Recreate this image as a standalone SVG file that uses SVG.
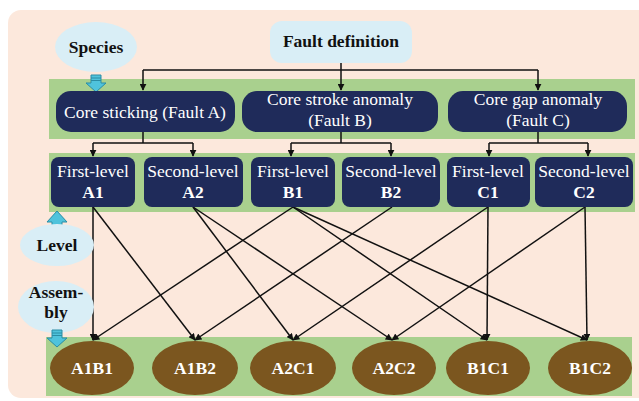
<svg xmlns="http://www.w3.org/2000/svg" width="639" height="401" viewBox="0 0 639 401">
<defs>
<style>
.t{font-family:"Liberation Serif","Times New Roman",serif;font-size:17.5px;text-anchor:middle}
.w{fill:#fff}
.b{font-weight:bold}
.k{fill:#111}
.navy{fill:#1f2b5a}
.band{fill:#a9d08e}
.bub{fill:#d9eef6}
.el{fill:#7b561f}
.cy{fill:#4fc3dc;stroke:#2a8da5;stroke-width:1}
.c{fill:none;stroke:#111;stroke-width:1.5}
</style>
<marker id="ah" viewBox="0 0 10 10" refX="9" refY="5" markerWidth="7" markerHeight="7" markerUnits="userSpaceOnUse" orient="auto">
<path d="M0,0 L10,5 L0,10 z" fill="#111"/>
</marker>
</defs>
<rect width="639" height="401" fill="#fff"/>
<rect x="8" y="10" width="645" height="388" rx="13" fill="#fce8dc"/>

<rect class="band" x="49" y="79" width="586" height="60"/>
<rect class="band" x="49" y="153" width="586" height="59"/>
<rect class="band" x="46" y="337" width="586" height="59"/>

<g id="connectors">
<path class="c" d="M341,63 V70"/>
<path class="c" d="M143,70 H538"/>
<path class="c" d="M143,70 V90" marker-end="url(#ah)"/>
<path class="c" d="M341,70 V90" marker-end="url(#ah)"/>
<path class="c" d="M538,70 V90" marker-end="url(#ah)"/>
<path class="c" d="M143,132 V143 M93,143 H193 M291,143 H391 M489,143 H588 M341,132 V143 M538,132 V143"/>
<path class="c" d="M93,143 V156" marker-end="url(#ah)"/>
<path class="c" d="M193,143 V156" marker-end="url(#ah)"/>
<path class="c" d="M291,143 V156" marker-end="url(#ah)"/>
<path class="c" d="M391,143 V156" marker-end="url(#ah)"/>
<path class="c" d="M489,143 V156" marker-end="url(#ah)"/>
<path class="c" d="M588,143 V156" marker-end="url(#ah)"/>
<path class="c" d="M93,207 L93,340" marker-end="url(#ah)"/>
<path class="c" d="M93,207 L195,340" marker-end="url(#ah)"/>
<path class="c" d="M193,207 L293,340" marker-end="url(#ah)"/>
<path class="c" d="M193,207 L392,340" marker-end="url(#ah)"/>
<path class="c" d="M293,207 L93,340" marker-end="url(#ah)"/>
<path class="c" d="M293,207 L487,340" marker-end="url(#ah)"/>
<path class="c" d="M293,207 L587,340" marker-end="url(#ah)"/>
<path class="c" d="M392,207 L195,340" marker-end="url(#ah)"/>
<path class="c" d="M488,207 L293,340" marker-end="url(#ah)"/>
<path class="c" d="M488,207 L487,340" marker-end="url(#ah)"/>
<path class="c" d="M585,207 L392,340" marker-end="url(#ah)"/>
<path class="c" d="M585,207 L587,340" marker-end="url(#ah)"/>
</g>

<g id="species">
<ellipse class="bub" cx="96" cy="47" rx="41" ry="25"/>
<text class="t b k" x="96" y="53">Species</text>
<path class="cy" d="M91,75 H101 V83 H106 L96,92 L86,83 H91 Z"/>
<path d="M91,78 H101 M91,80.5 H101" stroke="#2a8da5" stroke-width="1"/>
</g>

<g id="fault-definition">
<rect class="bub" x="270" y="21" width="142" height="42" rx="12"/>
<text class="t b k" x="341" y="47">Fault definition</text>
</g>

<g id="fault-a">
<rect class="navy" x="56" y="91" width="179" height="41" rx="15"/>
<text class="t w" x="145" y="118">Core sticking (Fault A)</text>
</g>
<g id="fault-b">
<rect class="navy" x="242" y="91" width="196" height="41" rx="15"/>
<text class="t w" x="340" y="105">Core stroke anomaly</text>
<text class="t w" x="340" y="126">(Fault B)</text>
</g>
<g id="fault-c">
<rect class="navy" x="448" y="91" width="179" height="41" rx="15"/>
<text class="t w" x="538" y="105">Core gap anomaly</text>
<text class="t w" x="538" y="126">(Fault C)</text>
</g>

<g id="a1"><rect class="navy" x="51" y="157" width="84" height="50" rx="8"/>
<text class="t w" x="93" y="177">First-level</text><text class="t w b" x="93" y="198">A1</text></g>
<g id="a2"><rect class="navy" x="144" y="157" width="99" height="50" rx="8"/>
<text class="t w" x="193" y="177">Second-level</text><text class="t w b" x="193" y="198">A2</text></g>
<g id="b1"><rect class="navy" x="251" y="157" width="84" height="50" rx="8"/>
<text class="t w" x="293" y="177">First-level</text><text class="t w b" x="293" y="198">B1</text></g>
<g id="b2"><rect class="navy" x="342" y="157" width="98" height="50" rx="8"/>
<text class="t w" x="391" y="177">Second-level</text><text class="t w b" x="391" y="198">B2</text></g>
<g id="c1"><rect class="navy" x="447" y="157" width="83" height="50" rx="8"/>
<text class="t w" x="488" y="177">First-level</text><text class="t w b" x="488" y="198">C1</text></g>
<g id="c2"><rect class="navy" x="535" y="157" width="98" height="50" rx="8"/>
<text class="t w" x="584" y="177">Second-level</text><text class="t w b" x="584" y="198">C2</text></g>

<g id="level">
<path class="cy" d="M57,211 L67,222 H62 V231 H52 V222 H47 Z"/>
<path d="M52,226 H62 M52,228.5 H62" stroke="#2a8da5" stroke-width="1"/>
<ellipse class="bub" cx="57" cy="245" rx="37" ry="21"/>
<text class="t b k" x="57" y="251">Level</text>
</g>

<g id="assembly">
<ellipse class="bub" cx="56" cy="307" rx="38" ry="26"/>
<text class="t b k" x="56" y="298">Assem-</text>
<text class="t b k" x="56" y="318">bly</text>
<path class="cy" d="M52,330 H62 V338 H67 L57,347 L47,338 H52 Z"/>
<path d="M52,333 H62 M52,335.5 H62" stroke="#2a8da5" stroke-width="1"/>
</g>

<g id="a1b1"><ellipse class="el" cx="92" cy="368" rx="42" ry="27"/><text class="t w b" x="92" y="374">A1B1</text></g>
<g id="a1b2"><ellipse class="el" cx="195" cy="368" rx="43" ry="27"/><text class="t w b" x="195" y="374">A1B2</text></g>
<g id="a2c1"><ellipse class="el" cx="293" cy="368" rx="43" ry="27"/><text class="t w b" x="293" y="374">A2C1</text></g>
<g id="a2c2"><ellipse class="el" cx="394" cy="368" rx="42" ry="27"/><text class="t w b" x="394" y="374">A2C2</text></g>
<g id="b1c1"><ellipse class="el" cx="488" cy="368" rx="42" ry="27"/><text class="t w b" x="488" y="374">B1C1</text></g>
<g id="b1c2"><ellipse class="el" cx="590" cy="368" rx="42" ry="27"/><text class="t w b" x="590" y="374">B1C2</text></g>
</svg>
